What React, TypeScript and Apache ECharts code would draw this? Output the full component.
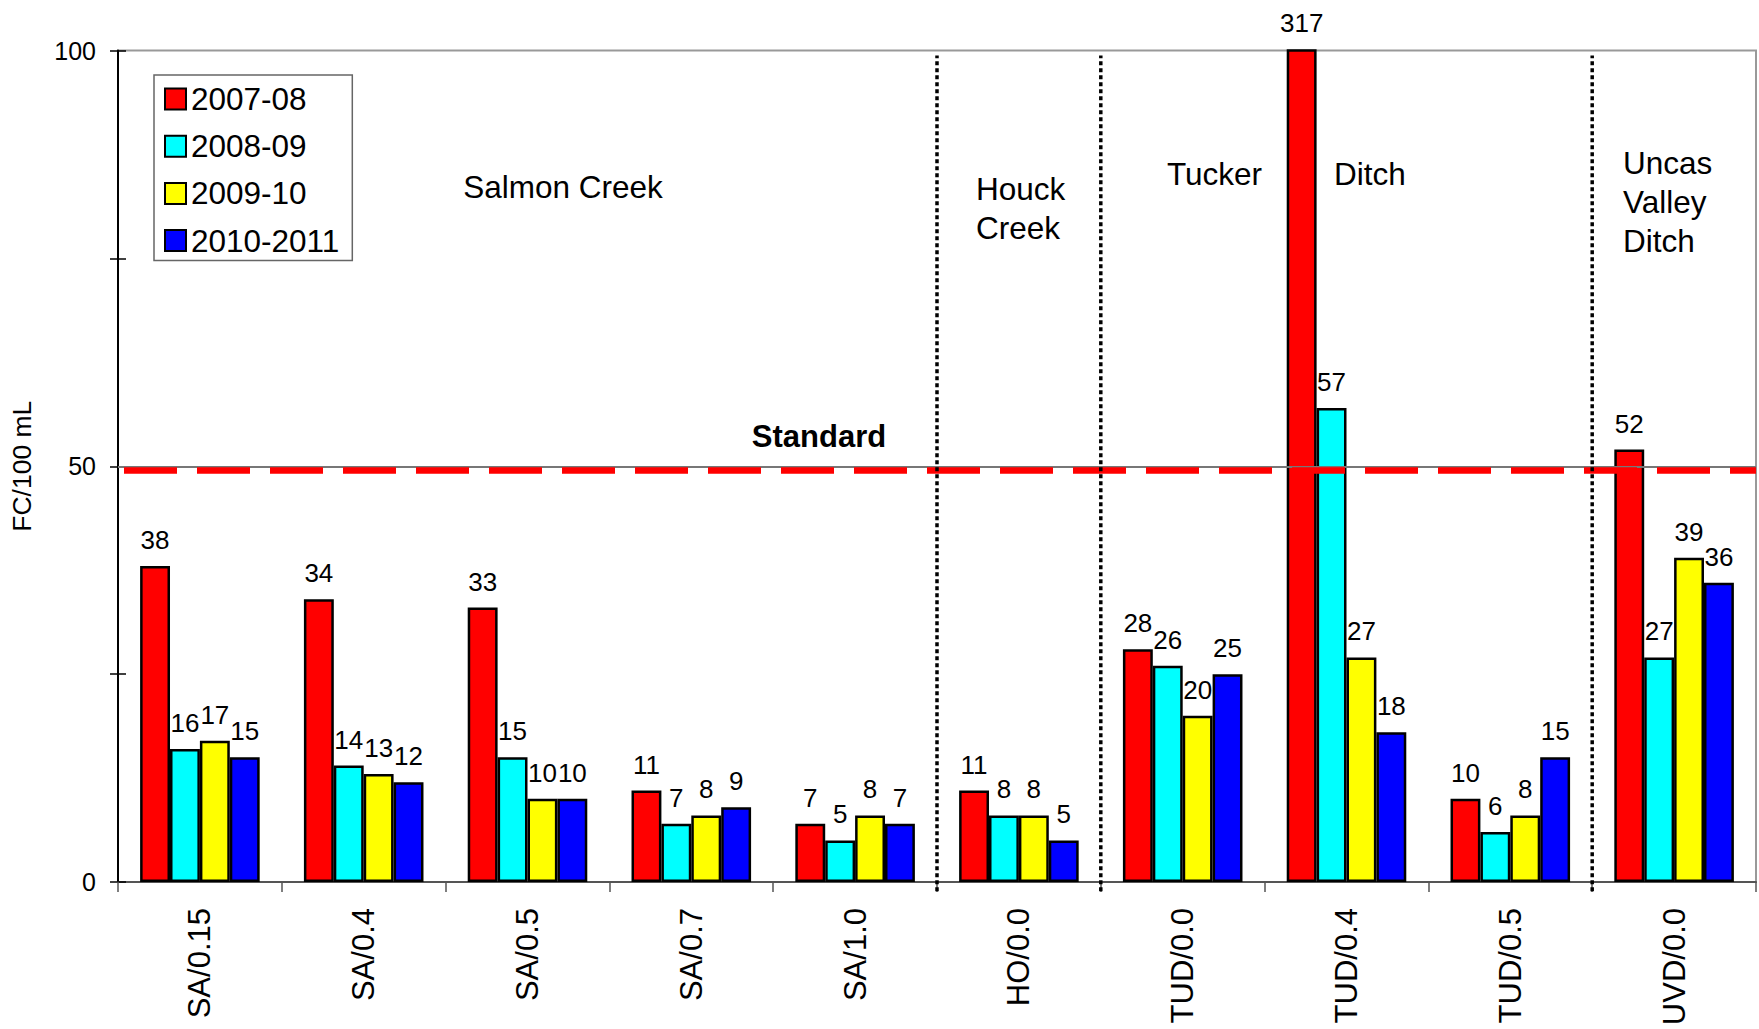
import React, { useEffect, useRef } from "react";
import * as echarts from "echarts";

// Fecal coliform (FC/100 mL) geometric means by station and water year
const categories = [
  "SA/0.15",
  "SA/0.4",
  "SA/0.5",
  "SA/0.7",
  "SA/1.0",
  "HO/0.0",
  "TUD/0.0",
  "TUD/0.4",
  "TUD/0.5",
  "UVD/0.0",
];
const seriesNames = ["2007-08", "2008-09", "2009-10", "2010-2011"];
const fc2007 = [38, 34, 33, 11, 7, 11, 28, 317, 10, 52];
const fc2008 = [16, 14, 15, 7, 5, 8, 26, 57, 6, 27];
const fc2009 = [17, 13, 10, 8, 8, 8, 20, 27, 8, 39];
const fc2010 = [15, 12, 10, 9, 7, 5, 25, 18, 15, 36];
const seriesValues = [fc2007, fc2008, fc2009, fc2010];
const seriesColors = ["#FF0000", "#00FFFF", "#FFFF00", "#0000FF"];

// y axis
const yMin = 0;
const yMax = 100;
const yTickStep = 25;
const yLabelValues = [0, 50, 100];
const standardValue = 49.5;
const gridLineValue = 50;

// stream reach boundaries (in category units along the x axis)
const reachBoundaries = [5, 6, 9];

const FONT = "Arial, Liberation Sans, sans-serif";

function regionText(text: string, x: number, y: number, align = "left") {
  return {
    type: "text",
    x,
    y,
    style: {
      text,
      fontFamily: FONT,
      fontSize: 31.5,
      fill: "#000",
      textAlign: align,
      textVerticalAlign: "middle",
    },
  };
}

export default function App() {
  const ref = useRef<HTMLDivElement>(null);

  useEffect(() => {
    if (!ref.current) return;
    const chart = echarts.init(ref.current, undefined, { renderer: "svg" });

    const barSeries = seriesNames.map((name, i) => ({
      name,
      type: "bar",
      xAxisIndex: 0,
      yAxisIndex: 0,
      data: seriesValues[i],
      barGap: "0%",
      barCategoryGap: "27%",
      clip: true,
      itemStyle: {
        color: seriesColors[i],
        borderColor: "#000",
        borderWidth: 2.5,
      },
      label: {
        show: true,
        position: "top",
        distance: 13,
        color: "#000",
        fontFamily: FONT,
        fontSize: 26,
      },
      emphasis: { disabled: true },
      z: 3,
    }));

    // dotted separators between stream reaches, drawn on the hidden value x axis
    const reachSeries = reachBoundaries.map((b, i) => ({
      name: "reach" + i,
      type: "line",
      xAxisIndex: 1,
      yAxisIndex: 0,
      data: [
        [b, -1.1],
        [b, 99.4],
      ],
      symbol: "none",
      clip: false,
      silent: true,
      lineStyle: { color: "#000", width: 3.5, type: [4, 3] },
      emphasis: { disabled: true },
      z: 5,
    }));

    const option = {
      animation: false,
      backgroundColor: "#fff",
      textStyle: { fontFamily: FONT },
      grid: {
        left: 116,
        right: 3,
        top: 50.5,
        bottom: 147,
        show: true,
        borderColor: "#999",
        borderWidth: 2,
        backgroundColor: "transparent",
      },
      legend: {
        orient: "vertical",
        left: 154,
        top: 75,
        data: seriesNames,
        icon: "rect",
        itemWidth: 21,
        itemHeight: 21,
        itemGap: 15.2,
        itemTextGap: 8,
        padding: [8, 13, 4, 10],
        backgroundColor: "#fff",
        borderColor: "#666",
        borderWidth: 1.5,
        textStyle: {
          fontFamily: FONT,
          fontSize: 31.5,
          lineHeight: 31.5,
          color: "#000",
        },
        selectedMode: false,
      },
      xAxis: [
        {
          type: "category",
          data: categories,
          axisLine: { show: true, lineStyle: { color: "#555", width: 2 } },
          axisTick: {
            show: true,
            length: 10,
            lineStyle: { color: "#555", width: 1.5 },
          },
          axisLabel: {
            rotate: 90,
            margin: 26,
            fontFamily: FONT,
            fontSize: 31,
            color: "#000",
            interval: 0,
          },
          splitLine: { show: false },
        },
        {
          type: "value",
          min: 0,
          max: categories.length,
          show: false,
        },
      ],
      yAxis: [
        {
          type: "value",
          min: yMin,
          max: yMax,
          interval: yTickStep,
          name: "FC/100 mL",
          nameLocation: "middle",
          nameRotate: 90,
          nameGap: 83,
          nameTextStyle: { fontFamily: FONT, fontSize: 26.5, color: "#000" },
          axisLine: { show: true, lineStyle: { color: "#000", width: 2 } },
          axisTick: {
            show: true,
            length: 8,
            lineStyle: { color: "#000", width: 1.5 },
          },
          axisLabel: {
            margin: 22,
            fontFamily: FONT,
            fontSize: 25,
            color: "#000",
            formatter: (v: number) =>
              yLabelValues.includes(v) ? String(v) : "",
          },
          splitLine: { show: false },
        },
        {
          type: "value",
          min: yMin,
          max: yMax,
          interval: yTickStep,
          position: "left",
          offset: 0,
          axisLine: { show: false },
          axisTick: {
            show: true,
            inside: true,
            length: 8,
            lineStyle: { color: "#000", width: 1.5 },
          },
          axisLabel: { show: false },
          splitLine: { show: false },
        },
      ],
      series: [
        // grid line at 50 and the red dashed water quality standard
        {
          name: "guides",
          type: "line",
          xAxisIndex: 0,
          yAxisIndex: 0,
          data: [],
          silent: true,
          z: 1,
          markLine: {
            silent: true,
            symbol: "none",
            label: { show: false },
            animation: false,
            data: [
              {
                yAxis: gridLineValue,
                lineStyle: { color: "#777", width: 2, type: "solid" },
              },
              {
                yAxis: standardValue,
                lineStyle: {
                  color: "#FF0000",
                  width: 6.5,
                  type: [53, 20],
                  dashOffset: 67,
                },
              },
            ],
          },
        },
        ...reachSeries,
        ...barSeries,
      ],
      graphic: [
        regionText("Salmon Creek", 563, 187, "center"),
        regionText("Houck", 976, 188.5),
        regionText("Creek", 976, 228),
        regionText("Tucker", 1167, 174),
        regionText("Ditch", 1334, 174),
        regionText("Uncas", 1623, 162.5),
        regionText("Valley", 1623, 202),
        regionText("Ditch", 1623, 241),
        {
          type: "text",
          x: 819,
          y: 436,
          style: {
            text: "Standard",
            fontFamily: FONT,
            fontSize: 31,
            fontWeight: "bold",
            fill: "#000",
            textAlign: "center",
            textVerticalAlign: "middle",
          },
        },
      ],
    };

    chart.setOption(option as any);
    return () => chart.dispose();
  }, []);

  return (
    <div
      ref={ref}
      style={{
        position: "fixed",
        left: 0,
        top: 0,
        width: 1759,
        height: 1029,
        background: "#fff",
      }}
    />
  );
}
